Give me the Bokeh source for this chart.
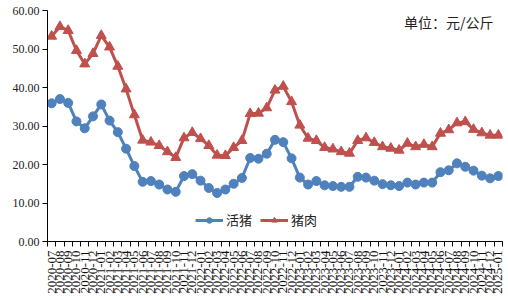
import math
from bokeh.plotting import figure
from bokeh.models import (ColumnDataSource, FixedTicker, NumeralTickFormatter, Range1d,
                          Legend, LegendItem, Label)
from bokeh.embed import file_html
from bokeh.resources import INLINE

# ---- data ----
months = []
for y in range(2020, 2026):
    for m in range(1, 13):
        lab = f"{y}-{m:02d}"
        if "2020-07" <= lab <= "2025-01":
            months.append(lab)

live_pig = [35.9, 37.0, 36.0, 31.2, 29.4, 32.5, 35.6, 31.4, 28.4, 24.1,
            19.6, 15.5, 15.7, 14.8, 13.5, 12.9, 17.0, 17.5, 15.8, 13.9,
            12.6, 13.5, 15.0, 16.5, 21.7, 21.5, 22.8, 26.4, 25.8, 21.6,
            16.6, 14.8, 15.7, 14.6, 14.4, 14.2, 14.2, 16.8, 16.6, 15.8,
            14.9, 14.6, 14.4, 15.3, 14.8, 15.3, 15.3, 18.0, 18.5, 20.3,
            19.4, 18.4, 17.1, 16.4, 17.0]
pork = [53.3, 55.8, 54.8, 49.6, 46.1, 48.8, 53.5, 50.5, 45.5, 39.6,
        32.9, 26.3, 25.8, 24.9, 23.3, 21.8, 26.9, 28.3, 26.7, 24.9,
        22.4, 22.3, 24.4, 26.2, 33.2, 33.3, 34.7, 39.3, 40.3, 36.3,
        30.2, 26.8, 26.2, 24.4, 24.0, 23.3, 22.9, 26.2, 26.9, 25.7,
        24.6, 24.2, 23.7, 25.5, 24.6, 25.2, 24.6, 28.1, 29.0, 30.8,
        31.1, 29.1, 28.2, 27.6, 27.6]
series_names = ["活猪", "猪肉"]
unit_text = "单位：元/公斤"
y_ticks = [0, 10, 20, 30, 40, 50, 60]

BLUE = "#4F81BD"
RED = "#C0504D"

n = len(months)
xs = list(range(n))
src = ColumnDataSource(dict(x=xs, live=live_pig, pork=pork))

p = figure(width=508, height=300, output_backend="svg", toolbar_location=None,
           x_range=Range1d(-0.5, n - 0.5), y_range=Range1d(0, 60),
           min_border_left=47, min_border_right=6, min_border_top=10, min_border_bottom=59)
p.outline_line_color = None
p.xgrid.visible = False
p.ygrid.visible = False
p.background_fill_color = "white"
p.border_fill_color = "white"

# x axis: labels at category centres, tick marks between categories
xa = p.xaxis[0]
xa.ticker = FixedTicker(ticks=xs, minor_ticks=[i - 0.5 for i in range(n + 1)])
xa.major_label_overrides = {i: months[i] for i in xs}
xa.major_label_orientation = math.pi / 2
xa.major_tick_out = 0
xa.major_tick_in = 0
xa.minor_tick_out = 5
xa.minor_tick_in = 0
xa.minor_tick_line_color = "black"
xa.axis_line_color = "black"
xa.major_label_text_font = "Liberation Serif"
xa.major_label_text_font_size = "13px"
xa.major_label_text_color = "#111111"
xa.major_label_standoff = 4

ya = p.yaxis[0]
ya.ticker = FixedTicker(ticks=y_ticks, minor_ticks=[])
ya.formatter = NumeralTickFormatter(format="0.00")
ya.major_tick_out = 5
ya.major_tick_in = 0
ya.axis_line_color = "black"
ya.major_label_text_font = "Liberation Serif"
ya.major_label_text_font_size = "12px"
ya.major_label_text_color = "#222222"
ya.major_label_standoff = 3

l1 = p.line("x", "live", source=src, color=BLUE, line_width=3)
s1 = p.scatter("x", "live", source=src, marker="circle", size=9, color=BLUE)
l2 = p.line("x", "pork", source=src, color=RED, line_width=3)
s2 = p.scatter("x", "pork", source=src, marker="triangle", size=10, color=RED)

legend = Legend(items=[LegendItem(label=series_names[0], renderers=[l1, s1]),
                       LegendItem(label=series_names[1], renderers=[l2, s2])],
                orientation="horizontal", location=(148, 12),
                border_line_color=None, background_fill_alpha=0,
                padding=0, margin=0, spacing=8, glyph_width=28, glyph_height=14,
                label_standoff=3, label_text_font="Noto Sans CJK SC",
                label_text_font_size="13px", label_text_color="#222222")
p.add_layout(legend, "center")

p.add_layout(Label(x=42.6, y=57.0, text=unit_text, text_font="Noto Sans CJK SC",
                   text_font_size="14px", text_color="#222222",
                   text_align="left", text_baseline="middle"))

open("out.html", "w").write(file_html(p, INLINE))
